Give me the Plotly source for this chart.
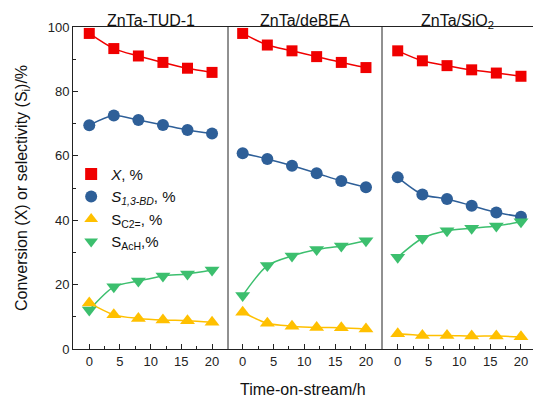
import plotly.graph_objects as go
from plotly.subplots import make_subplots

time_h = [0, 4, 8, 12, 16, 20]
catalysts = ["ZnTa-TUD-1", "ZnTa/deBEA", "ZnTa/SiO<sub>2</sub>"]

conv_X = [
    [98.0, 93.3, 91.0, 89.0, 87.2, 85.9],
    [98.0, 94.4, 92.6, 90.8, 89.0, 87.4],
    [92.6, 89.5, 88.0, 86.7, 85.7, 84.7],
]
sel_BD = [
    [69.5, 72.5, 71.1, 69.6, 68.0, 66.9],
    [60.8, 59.0, 56.9, 54.6, 52.2, 50.2],
    [53.3, 48.0, 46.6, 44.5, 42.4, 41.1],
]
sel_C2 = [
    [14.3, 10.6, 9.5, 9.0, 8.8, 8.3],
    [11.4, 8.0, 7.1, 6.7, 6.6, 6.2],
    [4.7, 4.2, 4.2, 4.0, 4.0, 3.8],
]
sel_AcH = [
    [12.1, 19.3, 21.1, 22.7, 23.3, 24.5],
    [16.6, 25.9, 28.9, 30.9, 32.0, 33.6],
    [28.5, 34.4, 36.7, 37.5, 38.2, 39.5],
]

series = [
    ("<i>X</i>, %", conv_X, "#F00000", "square", 11),
    ("<i>S</i><sub><i>1,3-BD</i></sub>, %", sel_BD, "#2E5F98", "circle", 12),
    ("S<sub>C2=</sub>, %", sel_C2, "#FFC000", "triangle-up", 13),
    ("S<sub>AcH</sub>,%", sel_AcH, "#3CBF6E", "triangle-down", 13),
]

W, H = 533, 395
L, R, T, B = 73, 0, 27, 46
pw = W - L - R
widths = [155, 154, 151]

fig = make_subplots(rows=1, cols=3, shared_yaxes=True, horizontal_spacing=0,
                    column_widths=widths)

for ci in range(3):
    for si, (name, data, color, sym, size) in enumerate(series):
        fig.add_trace(go.Scatter(
            x=time_h, y=data[ci], mode="lines", showlegend=False,
            line=dict(color=color, width=1.5, shape="spline", smoothing=0.8),
            hoverinfo="skip",
        ), row=1, col=ci + 1)
    for si, (name, data, color, sym, size) in enumerate(series):
        fig.add_trace(go.Scatter(
            x=time_h, y=data[ci], mode="markers", name=name,
            legendgroup=name, showlegend=(ci == 0),
            marker=dict(color=color, symbol=sym, size=size, line=dict(width=0)),
        ), row=1, col=ci + 1)

xranges = [[-2.65, 22.6], [-2.38, 22.6], [-2.55, 21.95]]
font = "Liberation Sans, Arial, sans-serif"
for ci in range(3):
    fig.update_xaxes(
        range=xranges[ci], tickvals=[0, 5, 10, 15, 20], ticks="inside",
        ticklen=5, tickwidth=1, tickcolor="#222", showline=True,
        linecolor="#222", linewidth=1, mirror=True, showgrid=False,
        zeroline=False, minor=dict(dtick=2.5, tick0=0, ticks="inside",
                                    ticklen=3, tickcolor="#222"),
        tickfont=dict(size=13, color="#222", family=font),
        row=1, col=ci + 1)
    fig.update_yaxes(range=[0, 100], showgrid=False, zeroline=False,
                     row=1, col=ci + 1)

fig.update_yaxes(
    tickvals=[0, 20, 40, 60, 80, 100], ticks="inside", ticklen=5,
    tickcolor="#222", showline=True, linecolor="#222", linewidth=1,
    minor=dict(dtick=10, ticks="inside", ticklen=3, tickcolor="#222"),
    tickfont=dict(size=13, color="#222", family=font),
    title=dict(text="Conversion (X) or selectivity (S<sub>i</sub>)/%",
               font=dict(size=16, color="#111", family=font), standoff=16),
    row=1, col=1)

# panel dividers
x0 = 0
for w in widths[:-1]:
    x0 += w / pw
    fig.add_shape(type="line", xref="paper", yref="paper", x0=x0, x1=x0,
                  y0=0, y1=1, line=dict(color="#222", width=1))

# panel titles
x0 = 0
for ci, w in enumerate(widths):
    fig.add_annotation(text=catalysts[ci], xref="paper", yref="paper",
                       x=x0 + w / pw / 2, y=1, xanchor="center",
                       yanchor="top", yshift=17, showarrow=False,
                       font=dict(size=16, color="#111", family=font))
    x0 += w / pw

fig.add_annotation(text="Time-on-stream/h", xref="paper", yref="paper",
                   x=0.5, y=0, yshift=-30, xanchor="center", yanchor="top",
                   showarrow=False,
                   font=dict(size=16, color="#111", family=font))

fig.update_layout(
    width=W, height=H, margin=dict(l=L, r=R, t=T, b=B),
    paper_bgcolor="white", plot_bgcolor="white",
    font=dict(family=font, color="#111"),
    legend=dict(x=-0.004, y=0.594, xanchor="left", yanchor="top",
                bgcolor="rgba(0,0,0,0)", font=dict(size=15, family=font),
                tracegroupgap=0, itemsizing="constant"),
)

fig.write_html("out.html")
